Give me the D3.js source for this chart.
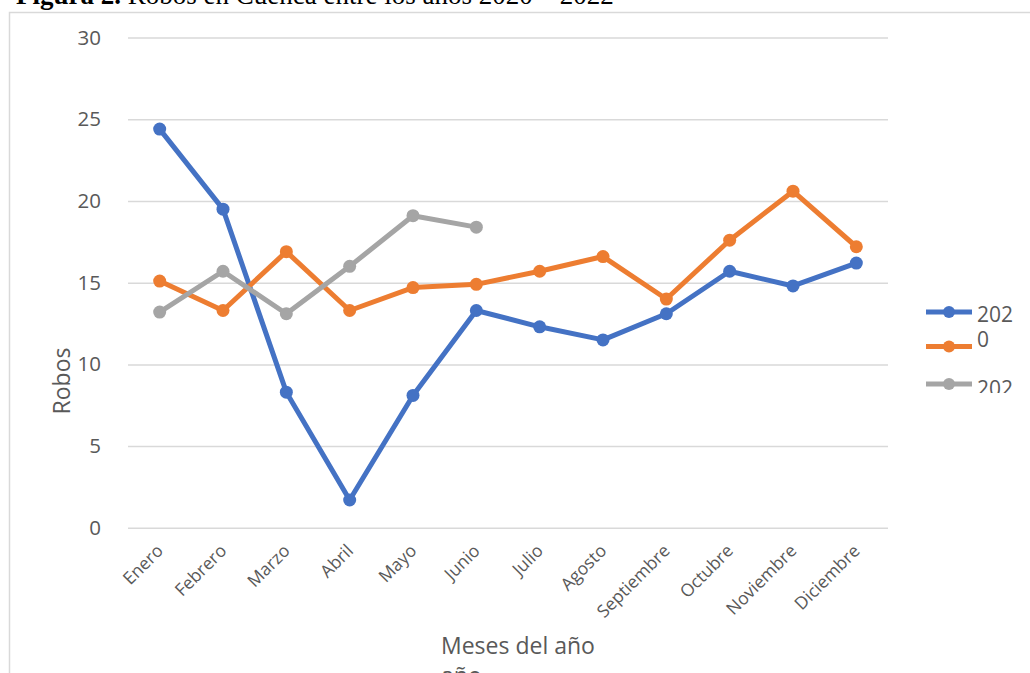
<!DOCTYPE html>
<html>
<head>
<meta charset="utf-8">
<script src="https://cdn.jsdelivr.net/npm/d3@7"></script>
<style>
  body { margin: 0; background: #fff; }
  svg { display: block; }
</style>
</head>
<body>
<script>
const width = 1030;
const height = 673;

// chart values
const months = ["Enero", "Febrero", "Marzo", "Abril", "Mayo", "Junio", "Julio",
    "Agosto", "Septiembre", "Octubre", "Noviembre", "Diciembre"];
const robos2020 = [24.4, 19.5, 8.3, 1.7, 8.1, 13.3, 12.3, 11.5, 13.1, 15.7, 14.8, 16.2];
const robos2021 = [15.1, 13.3, 16.9, 13.3, 14.7, 14.9, 15.7, 16.6, 14.0, 17.6, 20.6, 17.2];
const robos2022 = [13.2, 15.7, 13.1, 16.0, 19.1, 18.4];
const yTicks = [0, 5, 10, 15, 20, 25, 30];
// legend text as it shows in the figure (wrapped and cut)
const legendLines = ["202", "0", "202"];
const colors = ["#4472C4", "#ED7D31", "#A5A5A5"];

const series = [robos2020, robos2021, robos2022].map((vals, i) => ({
    color: colors[i],
    values: vals.map((v, j) => ({month: months[j], value: v}))
}));

const svg = d3.select('body').append('svg')
    .attr('width', width)
    .attr('height', height)
    .style('font-family', '"Open Sans", sans-serif');

// caption above the chart box (cut at the top of the picture)
const caption = svg.append('text')
    .attr('x', 16)
    .attr('y', 4)
    .style('font-family', '"Liberation Serif", "Times New Roman", serif')
    .style('font-size', '27px')
    .attr('fill', '#000');
caption.append('tspan').attr('font-weight', 'bold').text('Figura 2.');
caption.append('tspan').text(' Robos en Cuenca entre los años 2020 – 2022');

// chart frame
svg.append('rect')
    .attr('x', 9.5)
    .attr('y', 12.5)
    .attr('width', 1040)
    .attr('height', 700)
    .attr('fill', 'none')
    .attr('stroke', '#d9d9d9')
    .attr('stroke-width', 1.5);

const x = d3.scalePoint()
    .domain(months)
    .range([128, 888])
    .padding(0.5);

const y = d3.scaleLinear()
    .domain([0, 30])
    .range([527.8, 37.6]);

// gridlines + y labels
const yAxis = svg.append('g')
    .attr('transform', 'translate(128,0)')
    .call(d3.axisLeft(y).tickValues(yTicks).tickSize(-760).tickPadding(27));
yAxis.select('.domain').remove();
yAxis.selectAll('.tick line')
    .attr('stroke', '#d9d9d9')
    .attr('stroke-width', 1.5);
yAxis.selectAll('.tick text')
    .attr('fill', '#595959')
    .style('font-family', '"Open Sans", sans-serif')
    .style('font-size', '20.5px');

// x labels, rotated
const xAxis = svg.append('g')
    .attr('transform', `translate(0,${y(0)})`)
    .call(d3.axisBottom(x).tickSize(0));
xAxis.select('.domain').remove();
xAxis.selectAll('.tick text')
    .attr('fill', '#595959')
    .style('font-family', '"Open Sans", sans-serif')
    .style('font-size', '17.5px')
    .attr('text-anchor', 'end')
    .attr('dy', null)
    .attr('transform', 'translate(2,22) rotate(-45)');

// lines and markers
const line = d3.line()
    .x(d => x(d.month))
    .y(d => y(d.value));

series.forEach(s => {
    svg.append('path')
        .datum(s.values)
        .attr('fill', 'none')
        .attr('stroke', s.color)
        .attr('stroke-width', 5)
        .attr('stroke-linejoin', 'round')
        .attr('d', line);

    svg.append('g')
        .selectAll('circle')
        .data(s.values)
        .enter().append('circle')
        .attr('cx', d => x(d.month))
        .attr('cy', d => y(d.value))
        .attr('r', 6.5)
        .attr('fill', s.color);
});

// axis titles
svg.append('text')
    .attr('transform', 'translate(70,381) rotate(-90)')
    .attr('text-anchor', 'middle')
    .attr('fill', '#595959')
    .style('font-size', '23px')
    .text('Robos');

const xTitle = svg.append('text')
    .attr('x', 441)
    .attr('y', 654)
    .attr('fill', '#595959')
    .style('font-size', '23px');
xTitle.append('tspan').attr('x', 441).text('Meses del año');
xTitle.append('tspan').attr('x', 441).attr('dy', 30).text('año');

// legend
svg.append('clipPath')
    .attr('id', 'legend-clip')
    .append('rect')
    .attr('x', 900).attr('y', 290)
    .attr('width', 130).attr('height', 103);

const legendY = [312, 346.5, 384];
const legend = svg.append('g');
colors.forEach((c, i) => {
    legend.append('line')
        .attr('x1', 926).attr('x2', 972)
        .attr('y1', legendY[i]).attr('y2', legendY[i])
        .attr('stroke', c)
        .attr('stroke-width', 5);
    legend.append('circle')
        .attr('cx', 949).attr('cy', legendY[i])
        .attr('r', 6)
        .attr('fill', c);
});
const legendTextY = [322, 347, 396];
legend.append('g')
    .attr('clip-path', 'url(#legend-clip)')
    .selectAll('text')
    .data(legendLines)
    .enter().append('text')
    .attr('x', 977)
    .attr('y', (d, i) => legendTextY[i])
    .attr('fill', '#595959')
    .style('font-size', '21px')
    .text(d => d);
</script>
</body>
</html>
